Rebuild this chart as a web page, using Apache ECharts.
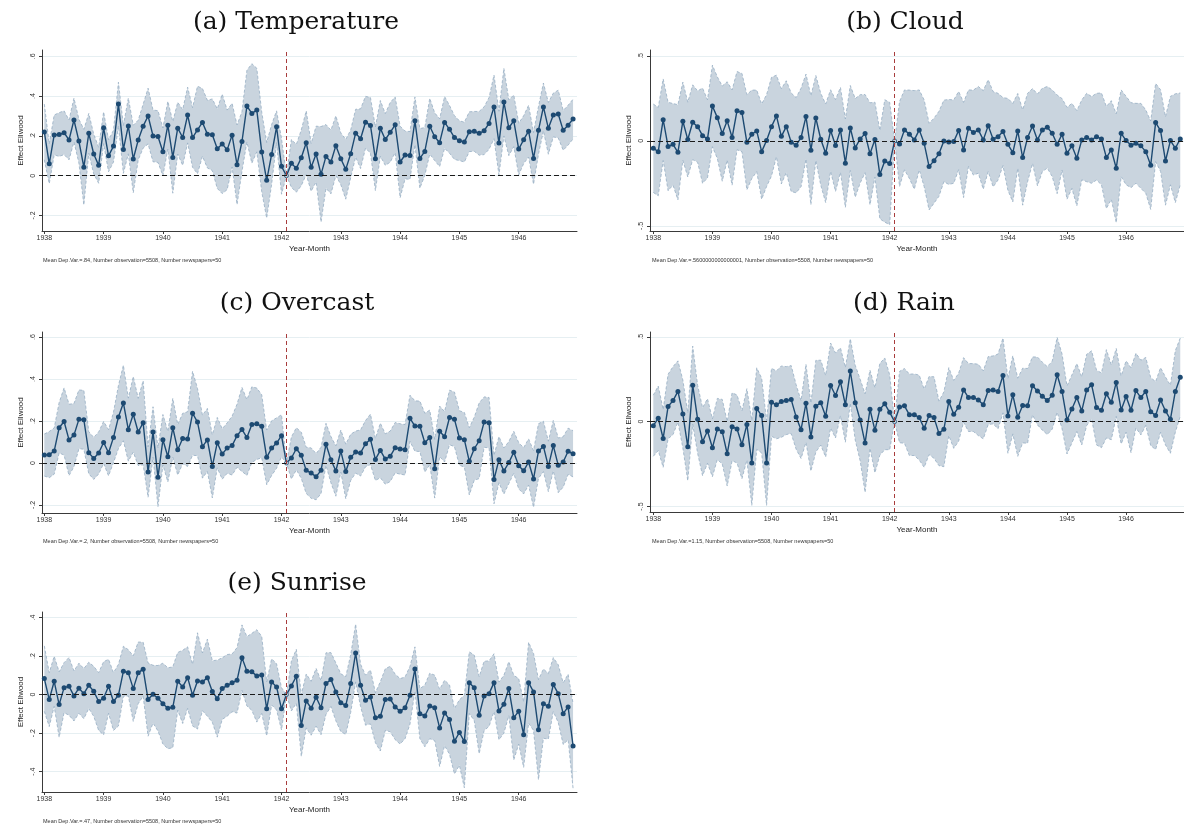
<!DOCTYPE html>
<html>
<head>
<meta charset="utf-8">
<script src="https://cdn.jsdelivr.net/npm/echarts@6/dist/echarts.min.js"></script>
<style>
html,body{margin:0;padding:0;background:#fff;}
#c{width:1184px;height:827px;}
</style>
</head>
<body>
<div id="c"></div>
<script>
// ---------- DATA ----------
const startYear = 1938;
const nMonths = 108;               // 1938-01 .. 1946-12
const refMonthIndex = 49;          // 1942-02 (reference month, red line)
const yearTicks = [1938,1939,1940,1941,1942,1943,1944,1945,1946];

const panelTitles = ['(a) Temperature','(b) Cloud','(c) Overcast','(d) Rain','(e) Sunrise'];
const panelNotes = [
  'Mean Dep.Var.=.84, Number observation=5508, Number newspapers=50',
  'Mean Dep.Var.=.5600000000000001, Number observation=5508, Number newspapers=50',
  'Mean Dep.Var.=.2, Number observation=5508, Number newspapers=50',
  'Mean Dep.Var.=1.15, Number observation=5508, Number newspapers=50',
  'Mean Dep.Var.=.47, Number observation=5508, Number newspapers=50'
];
const yTicksA = [-0.2,0,0.2,0.4,0.6];
const yTicksB = [-0.5,0,0.5];
const yTicksC = [-0.2,0,0.2,0.4,0.6];
const yTicksD = [-0.5,0,0.5];
const yTicksE = [-0.4,-0.2,0,0.2,0.4];

// point estimates
const tempEst = [0.22,0.06,0.205,0.207,0.216,0.18,0.28,0.174,0.043,0.213,
0.109,0.052,0.241,0.10,0.149,0.36,0.132,0.25,0.084,0.179,
0.249,0.30,0.20,0.197,0.12,0.254,0.092,0.239,0.192,0.305,
0.192,0.23,0.268,0.209,0.206,0.136,0.16,0.13,0.204,0.055,
0.172,0.35,0.313,0.33,0.119,-0.023,0.107,0.246,0.047,0.0,
0.062,0.037,0.09,0.166,0.042,0.109,0.007,0.097,0.069,0.151,
0.085,0.032,0.11,0.214,0.186,0.269,0.253,0.085,0.238,0.182,
0.218,0.256,0.069,0.104,0.102,0.276,0.087,0.122,0.249,0.196,
0.166,0.268,0.233,0.192,0.176,0.169,0.221,0.223,0.213,0.226,
0.263,0.346,0.164,0.37,0.241,0.276,0.134,0.181,0.224,0.087,
0.228,0.346,0.238,0.305,0.31,0.228,0.254,0.285];
// half-width of 95% CI
const tempCI = [0.14,0.1,0.1,0.11,0.11,0.1,0.11,0.11,0.19,0.1,
0.1,0.09,0.08,0.08,0.08,0.11,0.12,0.14,0.17,0.1,
0.11,0.14,0.13,0.13,0.12,0.12,0.18,0.13,0.14,0.14,
0.15,0.22,0.17,0.17,0.18,0.2,0.25,0.2,0.16,0.2,
0.15,0.18,0.25,0.21,0.2,0.19,0.15,0.08,0.14,0,
0.12,0.12,0.14,0.16,0.12,0.14,0.24,0.16,0.16,0.15,
0.13,0.15,0.12,0.12,0.15,0.13,0.14,0.16,0.14,0.13,
0.15,0.14,0.18,0.12,0.12,0.12,0.15,0.12,0.14,0.12,
0.12,0.13,0.12,0.11,0.1,0.1,0.1,0.1,0.11,0.12,
0.13,0.16,0.16,0.17,0.14,0.13,0.13,0.12,0.13,0.13,
0.12,0.12,0.13,0.11,0.12,0.1,0.1,0.1];

const cloudEst = [-0.043,-0.063,0.125,-0.033,-0.02,-0.067,0.116,0.008,0.11,0.084,
0.031,0.012,0.206,0.137,0.043,0.118,0.02,0.178,0.167,-0.008,
0.039,0.059,-0.063,0.002,0.084,0.147,0.027,0.084,-0.008,-0.025,
0.02,0.143,-0.055,0.135,0.01,-0.073,0.061,-0.027,0.065,-0.131,
0.076,-0.041,0.012,0.043,-0.076,0.008,-0.198,-0.118,-0.133,0,
-0.018,0.065,0.039,0.006,0.065,-0.014,-0.151,-0.116,-0.076,0,
-0.006,-0.004,0.061,-0.053,0.075,0.049,0.065,0.006,0.09,0.01,
0.025,0.055,-0.02,-0.069,0.059,-0.098,0.02,0.088,0.006,0.065,
0.08,0.045,-0.02,0.039,-0.073,-0.029,-0.102,0.006,0.02,0.006,
0.025,0.012,-0.098,-0.053,-0.161,0.045,0.002,-0.025,-0.014,-0.029,
-0.063,-0.143,0.108,0.061,-0.118,0.002,-0.043,0.012];
const cloudCI = [0.26,0.26,0.24,0.26,0.24,0.28,0.23,0.22,0.22,0.21,
0.28,0.23,0.24,0.24,0.28,0.23,0.28,0.23,0.23,0.28,
0.26,0.24,0.28,0.27,0.29,0.24,0.28,0.27,0.29,0.28,
0.29,0.25,0.32,0.25,0.27,0.29,0.24,0.27,0.25,0.26,
0.25,0.29,0.26,0.23,0.3,0.22,0.26,0.36,0.36,0,
0.25,0.235,0.26,0.29,0.235,0.255,0.255,0.25,0.25,0.24,
0.25,0.245,0.23,0.28,0.225,0.25,0.255,0.29,0.27,0.28,
0.255,0.2,0.27,0.29,0.22,0.28,0.26,0.22,0.27,0.245,
0.24,0.255,0.29,0.21,0.27,0.25,0.28,0.235,0.26,0.255,
0.255,0.27,0.3,0.29,0.32,0.255,0.26,0.25,0.235,0.25,
0.245,0.26,0.23,0.24,0.26,0.26,0.32,0.27];

const overcastEst = [0.038,0.04,0.057,0.168,0.198,0.11,0.133,0.208,0.206,0.049,
0.022,0.048,0.098,0.049,0.122,0.219,0.286,0.159,0.232,0.148,
0.192,-0.043,0.148,-0.068,0.111,0.03,0.168,0.063,0.117,0.114,
0.237,0.195,0.078,0.11,-0.016,0.097,0.043,0.071,0.083,0.13,
0.16,0.121,0.183,0.187,0.175,0.027,0.071,0.095,0.13,0,
0.024,0.068,0.037,-0.035,-0.048,-0.065,-0.035,0.089,0.016,-0.038,
0.057,-0.04,0.027,0.052,0.048,0.092,0.113,0.017,0.06,0.019,
0.032,0.073,0.067,0.063,0.213,0.176,0.175,0.097,0.122,-0.027,
0.151,0.125,0.217,0.208,0.119,0.111,0.008,0.068,0.106,0.195,
0.192,-0.079,0.016,-0.038,0.002,0.051,-0.013,-0.037,0.005,-0.076,
0.057,0.079,-0.016,0.083,-0.011,0.005,0.056,0.044];
const overcastCI = [0.1,0.11,0.11,0.12,0.16,0.17,0.15,0.14,0.14,0.1,
0.1,0.1,0.1,0.11,0.12,0.15,0.18,0.15,0.18,0.16,
0.2,0.12,0.12,0.14,0.12,0.12,0.14,0.12,0.12,0.13,
0.2,0.16,0.15,0.15,0.15,0.12,0.12,0.12,0.14,0.15,
0.2,0.18,0.18,0.17,0.15,0.13,0.13,0.12,0.1,0,
0.1,0.1,0.11,0.11,0.12,0.11,0.11,0.1,0.11,0.12,
0.1,0.13,0.11,0.1,0.11,0.11,0.12,0.1,0.13,0.12,
0.12,0.12,0.12,0.12,0.11,0.12,0.12,0.14,0.13,0.14,
0.12,0.12,0.13,0.13,0.13,0.13,0.16,0.15,0.18,0.12,
0.12,0.115,0.11,0.11,0.1,0.1,0.11,0.11,0.11,0.135,
0.13,0.12,0.12,0.12,0.13,0.12,0.11,0.11];

const rainEst = [-0.024,0.02,-0.099,0.089,0.124,0.178,0.045,-0.148,0.215,0.014,
-0.118,-0.055,-0.154,-0.043,-0.059,-0.189,-0.03,-0.043,-0.136,-0.016,
-0.243,0.077,0.036,-0.243,0.114,0.099,0.118,0.124,0.13,0.028,
-0.047,0.108,-0.091,0.091,0.112,0.032,0.213,0.154,0.235,0.099,
0.298,0.112,0.01,-0.126,0.073,-0.051,0.073,0.105,0.055,0,
0.086,0.093,0.04,0.041,0.024,-0.039,0.036,0.024,-0.069,-0.045,
0.118,0.043,0.085,0.187,0.142,0.142,0.128,0.099,0.183,0.187,
0.178,0.272,0.034,0.158,0.026,0.095,0.093,0.211,0.181,0.15,
0.124,0.156,0.276,0.178,0.01,0.075,0.142,0.063,0.187,0.217,
0.083,0.067,0.164,0.114,0.231,0.069,0.148,0.067,0.183,0.142,
0.178,0.059,0.036,0.128,0.063,0.014,0.178,0.262];
const rainCI = [0.18,0.19,0.17,0.19,0.2,0.18,0.2,0.2,0.23,0.2,
0.2,0.19,0.17,0.18,0.19,0.19,0.2,0.2,0.2,0.21,
0.25,0.24,0.22,0.25,0.2,0.2,0.21,0.2,0.2,0.19,
0.17,0.23,0.2,0.27,0.25,0.24,0.25,0.25,0.2,0.22,
0.19,0.22,0.24,0.29,0.23,0.25,0.27,0.27,0.22,0,
0.21,0.22,0.24,0.24,0.25,0.23,0.23,0.24,0.19,0.22,
0.2,0.2,0.2,0.19,0.2,0.2,0.21,0.2,0.2,0.2,
0.22,0.22,0.22,0.23,0.23,0.22,0.22,0.17,0.2,0.2,
0.2,0.2,0.22,0.22,0.2,0.2,0.2,0.2,0.21,0.2,
0.22,0.22,0.26,0.22,0.2,0.2,0.21,0.25,0.22,0.22,
0.2,0.2,0.2,0.19,0.2,0.2,0.24,0.23];

const sunriseEst = [0.083,-0.026,0.069,-0.052,0.036,0.043,-0.007,0.033,0.005,0.048,
0.017,-0.036,-0.019,0.043,-0.036,-0.003,0.121,0.113,0.031,0.113,
0.132,-0.026,0.002,-0.019,-0.047,-0.071,-0.066,0.069,0.04,0.088,
-0.003,0.071,0.066,0.088,0.016,-0.021,0.031,0.048,0.061,0.074,
0.192,0.121,0.118,0.097,0.102,-0.074,0.066,0.04,-0.074,0,
0.045,0.095,-0.161,-0.033,-0.071,-0.014,-0.068,0.057,0.078,0.014,
-0.042,-0.057,0.057,0.216,0.048,-0.029,-0.012,-0.12,-0.113,-0.026,
-0.023,-0.064,-0.087,-0.069,-0.003,0.133,-0.099,-0.111,-0.059,-0.069,
-0.173,-0.095,-0.13,-0.242,-0.197,-0.244,0.062,0.035,-0.107,-0.007,
0.005,0.062,-0.085,-0.05,0.031,-0.12,-0.087,-0.208,0.062,0.014,
-0.182,-0.047,-0.061,0.052,0.005,-0.099,-0.064,-0.267];
const sunriseCI = [0.17,0.14,0.13,0.17,0.13,0.15,0.13,0.13,0.13,0.12,
0.13,0.15,0.19,0.14,0.15,0.16,0.13,0.12,0.17,0.16,
0.14,0.19,0.15,0.17,0.21,0.21,0.21,0.15,0.19,0.16,
0.16,0.25,0.15,0.2,0.16,0.2,0.16,0.16,0.15,0.17,
0.17,0.18,0.2,0.24,0.2,0.14,0.12,0.12,0.11,0,
0.13,0.14,0.16,0.14,0.14,0.15,0.14,0.16,0.14,0.15,
0.15,0.15,0.15,0.15,0.11,0.13,0.14,0.13,0.18,0.16,
0.17,0.17,0.17,0.16,0.15,0.115,0.13,0.16,0.17,0.17,
0.2,0.17,0.18,0.17,0.17,0.24,0.16,0.17,0.2,0.18,
0.17,0.15,0.15,0.15,0.14,0.22,0.17,0.17,0.21,0.2,
0.26,0.18,0.17,0.14,0.15,0.16,0.17,0.22];

// ---------- LAYOUT / STYLE ----------
const layout = [
  {left:42,  top:50,  width:535, height:181, x0:1937.961, x1:1946.983, ymin:-0.278, ymax:0.632, tx:296, ty:22,  nx:43,  ny:260},
  {left:650, top:50,  width:535, height:181, x0:1937.944, x1:1946.98,  ymin:-0.53,  ymax:0.535, tx:905, ty:22,  nx:652, ny:260},
  {left:42,  top:332, width:535, height:181, x0:1937.961, x1:1946.983, ymin:-0.238, ymax:0.624, tx:297, ty:303, nx:43,  ny:541},
  {left:650, top:332, width:535, height:180, x0:1937.944, x1:1946.98,  ymin:-0.532, ymax:0.528, tx:904, ty:303, nx:652, ny:541},
  {left:42,  top:612, width:535, height:180, x0:1937.961, x1:1946.983, ymin:-0.506, ymax:0.429, tx:297, ty:583, nx:43,  ny:821}
];
const estList = [tempEst, cloudEst, overcastEst, rainEst, sunriseEst];
const ciList  = [tempCI, cloudCI, overcastCI, rainCI, sunriseCI];
const tickList = [yTicksA, yTicksB, yTicksC, yTicksD, yTicksE];

const NAVY = '#1d4a72';
const BAND = '#c9d4de';
const EDGE = '#97afc4';
const AXIS = '#3a3a3a';
const GRIDC = '#e6eff2';
const REDL = '#a83c3c';
const SANS = '"Liberation Sans", Arial, sans-serif';
const SERIF = '"DejaVu Serif", "Liberation Serif", serif';

const xs = [];
for (let j = 0; j < nMonths; j++) xs.push(startYear + j / 12);
const refX = xs[refMonthIndex];

function stataFmt(v) {
  if (Math.abs(v) < 1e-9) return '0';
  const s = String(+v.toFixed(2));
  return s.replace(/^(-?)0\./, '$1.');
}

const grids = [], xAxes = [], yAxes = [], series = [], graphics = [];

layout.forEach((L, i) => {
  const est = estList[i], ci = ciList[i];
  const lo = est.map((v, j) => v - ci[j]);
  const hi = est.map((v, j) => v + ci[j]);

  grids.push({left: L.left, top: L.top, width: L.width, height: L.height, containLabel: false});

  xAxes.push({
    type: 'value', gridIndex: i, min: L.x0, max: L.x1,
    name: 'Year-Month', nameLocation: 'middle', nameGap: 14,
    nameTextStyle: {fontFamily: SANS, fontSize: 8, color: '#222'},
    axisLine: {show: true, onZero: false, lineStyle: {color: AXIS, width: 1}},
    axisTick: {show: true, customValues: yearTicks, length: 3, lineStyle: {color: AXIS}},
    axisLabel: {customValues: yearTicks, fontFamily: SANS, fontSize: 7, color: '#333', margin: 4,
                formatter: v => String(Math.round(v))},
    splitLine: {show: false}
  });

  yAxes.push({
    type: 'value', gridIndex: i, min: L.ymin, max: L.ymax,
    name: 'Effect Ellwood', nameLocation: 'middle', nameGap: 17, nameRotate: 90,
    nameTextStyle: {fontFamily: SANS, fontSize: 8, color: '#222'},
    axisLine: {show: true, onZero: false, lineStyle: {color: AXIS, width: 1}},
    axisTick: {show: true, customValues: tickList[i], length: 3, lineStyle: {color: AXIS}},
    axisLabel: {customValues: tickList[i], rotate: 90, fontFamily: SANS, fontSize: 7, color: '#333', margin: 5,
                formatter: stataFmt},
    splitLine: {show: true, lineStyle: {color: GRIDC, width: 1}}
  });

  // confidence band (polygon through the library's coordinate system)
  series.push({
    type: 'custom', xAxisIndex: i, yAxisIndex: i, silent: true, z: 1,
    data: xs.map((x, j) => [x, lo[j], hi[j]]),
    encode: {x: 0, y: [1, 2]},
    renderItem: function (params, api) {
      if (params.dataIndex !== 0) return null;
      const up = xs.map((x, j) => api.coord([x, hi[j]]));
      const dn = xs.map((x, j) => api.coord([x, lo[j]]));
      return {
        type: 'group',
        children: [
          {type: 'polygon', shape: {points: up.concat(dn.slice().reverse())}, style: {fill: BAND}},
          {type: 'polyline', shape: {points: up}, style: {stroke: EDGE, lineWidth: 0.8, lineDash: [3, 2], fill: null}},
          {type: 'polyline', shape: {points: dn}, style: {stroke: EDGE, lineWidth: 0.8, lineDash: [3, 2], fill: null}}
        ]
      };
    }
  });

  // reference lines: zero (black dashed) and reference month (red dashed)
  series.push({
    type: 'line', xAxisIndex: i, yAxisIndex: i, z: 2, data: [], silent: true,
    markLine: {
      silent: true, symbol: 'none', label: {show: false}, animation: false,
      lineStyle: {color: '#1a1a1a', type: [5, 3], width: 1.1},
      data: [{yAxis: 0}]
    }
  });
  series.push({
    type: 'line', xAxisIndex: i, yAxisIndex: i, z: 2, data: [], silent: true,
    markLine: {
      silent: true, symbol: 'none', label: {show: false}, animation: false,
      lineStyle: {color: REDL, type: [4, 3], width: 1},
      data: [{xAxis: refX}]
    }
  });

  // estimates
  series.push({
    type: 'line', xAxisIndex: i, yAxisIndex: i, z: 3,
    symbol: 'circle', symbolSize: 5,
    lineStyle: {color: NAVY, width: 1.4},
    itemStyle: {color: NAVY},
    data: xs.map((x, j) => j === refMonthIndex
      ? {value: [x, est[j]], itemStyle: {color: BAND, borderColor: NAVY, borderWidth: 0.8}, symbolSize: 4}
      : [x, est[j]]),
    animation: false
  });

  graphics.push({type: 'text', x: L.tx, y: L.ty,
    style: {text: panelTitles[i], font: '25px ' + SERIF, fill: '#111', textAlign: 'center', textVerticalAlign: 'middle'}});
  graphics.push({type: 'text', x: L.nx, y: L.ny,
    style: {text: panelNotes[i], font: '5.5px ' + SANS, fill: '#333', textAlign: 'left', textVerticalAlign: 'middle'}});
});

const chart = echarts.init(document.getElementById('c'), null, {renderer: 'canvas'});
chart.setOption({
  animation: false,
  backgroundColor: '#ffffff',
  grid: grids, xAxis: xAxes, yAxis: yAxes, series: series, graphic: graphics
});
</script>
</body>
</html>
